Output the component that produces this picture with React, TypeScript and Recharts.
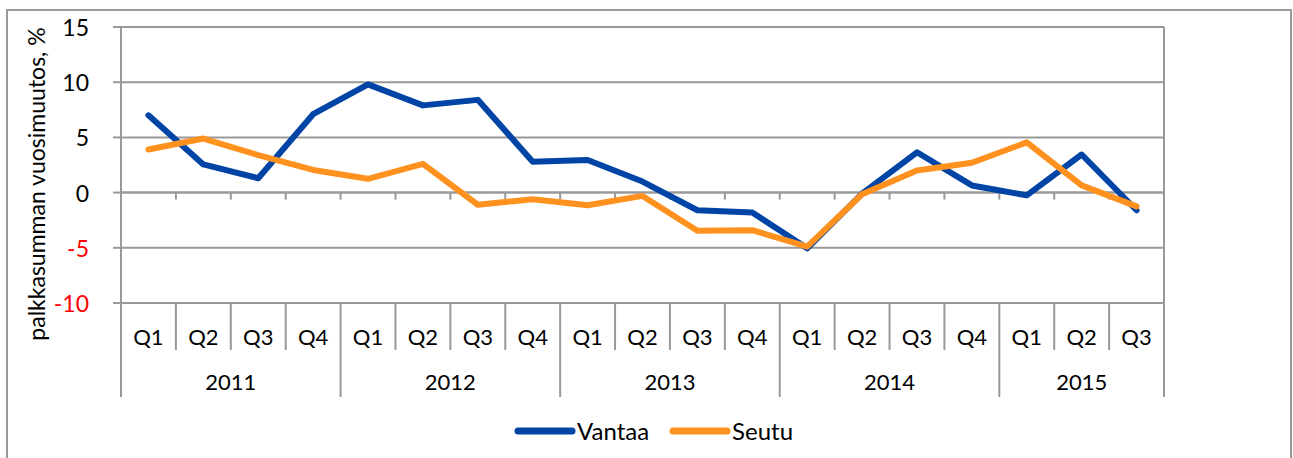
import React from 'react';
import { LineChart, Line, XAxis, YAxis, CartesianGrid, ReferenceLine, Legend } from 'recharts';

// ---- data ----
const years = ['2011', '2012', '2013', '2014', '2015'];
const quartersPerYear = [4, 4, 4, 4, 3];
const quarterNames = ['Q1', 'Q2', 'Q3', 'Q4'];
const vantaa = [7.0, 2.55, 1.3, 7.1, 9.8, 7.9, 8.4, 2.8, 2.95, 1.0, -1.6, -1.8, -5.05, -0.1, 3.65, 0.65, -0.25, 3.45, -1.6];
const seutu = [3.9, 4.9, 3.4, 2.05, 1.25, 2.6, -1.1, -0.6, -1.15, -0.3, -3.45, -3.4, -4.9, -0.15, 2.0, 2.7, 4.55, 0.65, -1.25];
const yTicks = [-10, -5, 0, 5, 10, 15];
const seriesOrder = ['Vantaa', 'Seutu'];
const axisTitle = 'palkkasumman vuosimuutos, %';

// ---- layout / style ----
const W = 1293;
const H = 458;
const PLOT_LEFT = 121;
const PLOT_RIGHT = 1164;
const PLOT_TOP = 27;
const PLOT_BOTTOM = 303;
const FONT = 'Lato, "Open Sans", sans-serif';
const GRID = '#999999';
const BLUE = '#0044A6';
const ORANGE = '#FF911F';

const rows: { key: string; quarter: string; year: string; yearIndex: number; posInYear: number; vantaa: number; seutu: number }[] = [];
{
  let i = 0;
  years.forEach((y, yi) => {
    for (let q = 0; q < quartersPerYear[yi]; q++) {
      rows.push({ key: `${y}-${quarterNames[q]}`, quarter: quarterNames[q], year: y, yearIndex: yi, posInYear: q, vantaa: vantaa[i], seutu: seutu[i] });
      i++;
    }
  });
}
const N = rows.length;
const BW = (PLOT_RIGHT - PLOT_LEFT) / N;

const XTick = (props: any) => {
  const { x, y, payload } = props;
  const idx = payload.index;
  const row = rows[idx];
  if (!row) return null;
  const left = x - BW / 2;
  const right = x + BW / 2;
  const first = row.posInYear === 0;
  const isLast = idx === N - 1;
  const count = quartersPerYear[row.yearIndex];
  return (
    <g>
      <line x1={left} x2={left} y1={y} y2={y + (first ? 94 : 47)} stroke={GRID} strokeWidth={2} />
      {isLast && <line x1={right} x2={right} y1={y} y2={y + 94} stroke={GRID} strokeWidth={2} />}
      <text x={x} y={y + 33} textAnchor="middle" dominantBaseline="central" fontFamily={FONT} fontSize={22} fill="#000">{row.quarter}</text>
      {first && (
        <text x={left + (count * BW) / 2} y={y + 78} textAnchor="middle" dominantBaseline="central" fontFamily={FONT} fontSize={22} fill="#000">{row.year}</text>
      )}
    </g>
  );
};

const YTick = (props: any) => {
  const { x, y, payload } = props;
  const v = payload.value;
  return (
    <text x={x} y={y} textAnchor="end" dominantBaseline="central" fontFamily={FONT} fontSize={23} fill={v < 0 ? '#FF0000' : '#000'}>{v}</text>
  );
};

const ZeroAxis = (props: any) => {
  const { x1, x2, y1 } = props;
  if (x1 == null || y1 == null) return null;
  const step = (x2 - x1) / N;
  const ticks = [];
  for (let k = 1; k <= N; k++) {
    const tx = x1 + k * step;
    ticks.push(<line key={k} x1={tx} x2={tx} y1={y1} y2={y1 + 7} stroke={GRID} strokeWidth={2} />);
  }
  return (
    <g>
      <line x1={x1} x2={x2} y1={y1} y2={y1} stroke={GRID} strokeWidth={2} />
      {ticks}
    </g>
  );
};

const LegendContent = (props: any) => {
  const payload = [...(props.payload || [])].sort((a: any, b: any) => seriesOrder.indexOf(a.value) - seriesOrder.indexOf(b.value));
  return (
    <div style={{ display: 'flex', alignItems: 'center', fontFamily: FONT, fontSize: 24, color: '#000', lineHeight: '28px' }}>
      {payload.map((p: any, i: number) => (
        <div key={i} style={{ display: 'flex', alignItems: 'center', marginRight: i === 0 ? 20 : 0 }}>
          <svg width={62} height={12} style={{ display: 'block' }}>
            <line x1={4} x2={58} y1={6} y2={6} stroke={p.color} strokeWidth={7} strokeLinecap="round" />
          </svg>
          <span style={{ marginLeft: 1 }}>{p.value}</span>
        </div>
      ))}
    </div>
  );
};

export default function App() {
  return (
    <div style={{ position: 'absolute', left: 0, top: 0, width: W, height: H, overflow: 'hidden', background: '#fff' }}>
      <div style={{ position: 'absolute', left: 6, top: 9, width: 1286, height: 480, border: '2px solid #9a9a9a', boxSizing: 'border-box' }} />
      <div style={{ position: 'absolute', left: 0, top: 0 }}>
        <LineChart width={W} height={H} data={rows} margin={{ top: PLOT_TOP, left: 0, right: W - PLOT_RIGHT - 1, bottom: 0 }}>
          <CartesianGrid horizontal vertical={false} stroke={GRID} strokeWidth={2} />
          <XAxis
            dataKey="key"
            height={H - PLOT_BOTTOM}
            axisLine={false}
            tickLine={false}
            tickSize={0}
            tickMargin={0}
            interval={0}
            padding={{ left: BW / 2, right: BW / 2 }}
            tick={<XTick />}
          />
          <YAxis
            width={PLOT_LEFT}
            domain={[-10, 15]}
            ticks={yTicks}
            interval={0}
            axisLine={{ stroke: GRID, strokeWidth: 2 }}
            tickLine={{ stroke: GRID, strokeWidth: 2 }}
            tickSize={8}
            tickMargin={24}
            tick={<YTick />}
            label={() => (
              <text x={36} y={184} transform="rotate(-90 36 184)" textAnchor="middle" dominantBaseline="central" fontFamily={FONT} fontSize={23} fill="#000">{axisTitle}</text>
            )}
          />
          <YAxis yAxisId="r" orientation="right" width={1} tick={false} tickLine={false} axisLine={{ stroke: GRID, strokeWidth: 2 }} />
          <ReferenceLine y={0} shape={<ZeroAxis />} />
          <Line dataKey="vantaa" name="Vantaa" stroke={BLUE} strokeWidth={6} dot={false} strokeLinecap="round" strokeLinejoin="round" isAnimationActive={false} />
          <Line dataKey="seutu" name="Seutu" stroke={ORANGE} strokeWidth={6} dot={false} strokeLinecap="round" strokeLinejoin="round" isAnimationActive={false} />
          <Legend layout="horizontal" verticalAlign="middle" align="center" content={<LegendContent />} wrapperStyle={{ position: 'absolute', left: 514, top: 417, width: 'auto' }} />
        </LineChart>
      </div>
    </div>
  );
}
